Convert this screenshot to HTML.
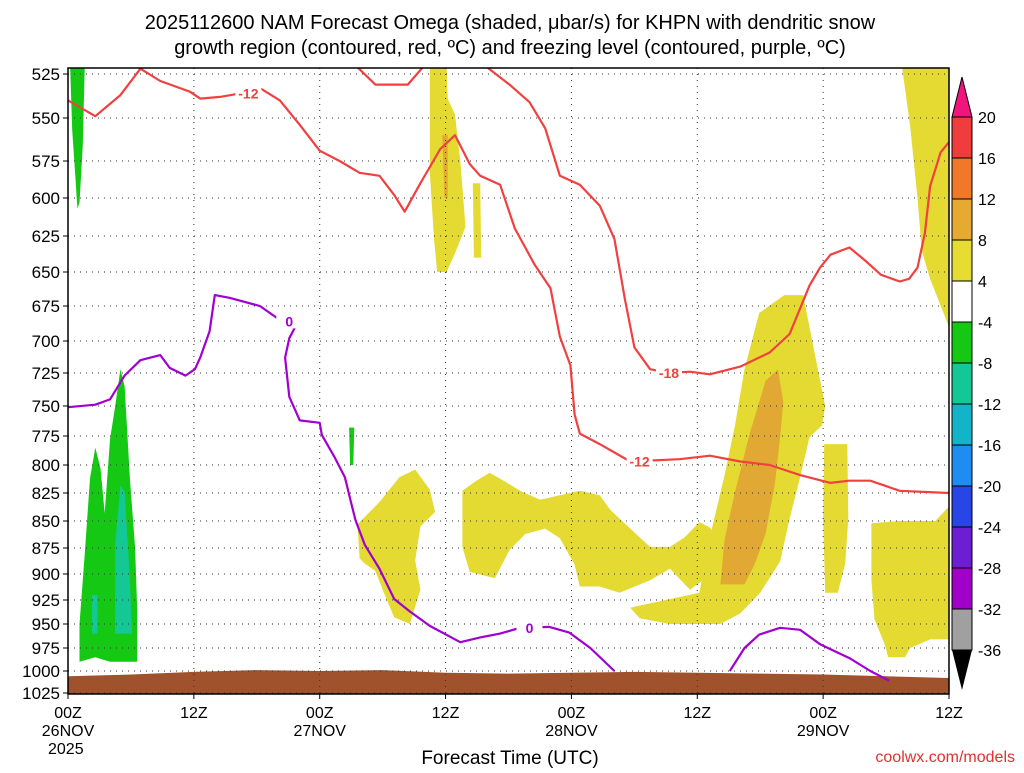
<!DOCTYPE html>
<html><head><meta charset="utf-8"><style>
body{margin:0;background:#fff;width:1024px;height:768px;overflow:hidden}
svg{font-family:"Liberation Sans",sans-serif}
</style></head><body>
<svg id="c" width="1024" height="768" xmlns="http://www.w3.org/2000/svg"></svg>
<script>
const pTicks=[525,550,575,600,625,650,675,700,725,750,775,800,825,850,875,900,925,950,975,1000,1025];
const pTickY=[74,118,161,198,236,272,306,341,373,406,436,465,493,521,548,574,600,624,648,671,693];
const xTickHours=[0,12,24,36,48,60,72,84];
const xTickLabels=["00Z","12Z","00Z","12Z","00Z","12Z","00Z","12Z"];
const xDateLabels=["26NOV","","27NOV","","28NOV","","29NOV",""];
const cbLevels=[20,16,12,8,4,-4,-8,-12,-16,-20,-24,-28,-32,-36];
const cbColors=["#f03c3c","#f07828","#e6aa32","#e6dc32","#ffffff","#14c814","#14c896","#14b4c8","#1e8cf0","#2846e6","#6e1ed2","#a000c8","#a0a0a0"];
const redA=[[0,540],[2.6,549],[5,537],[6.9,522],[8.8,529],[11.6,535],[12.6,539],[14.5,538],[16.4,536],[18.3,533],[20.2,540],[22.1,554],[24,569],[25.9,575],[27.8,583],[29.7,585],[31.1,598],[32.1,609],[33.6,590],[35.5,568],[36.9,560],[37.4,566],[38.3,577],[39.3,585],[41.2,591],[42.6,620],[44.5,645],[46,662],[46.9,697],[47.9,719],[48.3,757],[48.8,773],[50.7,782],[53.6,797],[58.3,795],[61.2,792],[64.1,797],[66.9,800],[69.8,809],[72.7,816],[74.5,814],[76.5,814],[79.3,823],[84,825]];
const redB=[[27.4,520],[29.3,531],[32.4,531],[34,520]];
const redC=[[39.7,520],[42.1,531],[44,541],[45.5,556],[46.9,585],[48.8,591],[50.7,605],[52.1,627],[53.1,670],[54,705],[55.5,722],[57.3,725],[59.3,724],[61.2,726],[64.1,720],[66.9,709],[68.8,695],[70.7,660],[71.7,647],[72.7,638],[74.5,633],[76,642],[77.5,652],[79.3,657],[80.2,655],[81,647],[81.7,623],[82.2,592],[83.2,570],[84,564]];
const purpleA=[[0,751],[2.6,749],[4,745],[5.4,727],[6.9,715],[8.8,711],[9.7,721],[11.2,727],[12.1,722],[12.6,713],[13.5,693],[14,667],[15.4,669],[18.3,675],[20.2,685],[21.6,691],[21.1,698],[20.7,713],[21.1,743],[22.1,762],[24,764],[24.2,774],[25.4,793],[26.4,811],[26.9,830],[27.4,849],[28.3,872],[29.7,895],[31.1,924],[32.6,937],[34.5,952],[37.4,969],[39.3,964],[41.2,960],[43.1,954],[45.9,953],[47.8,959],[49.8,975],[52.1,1000]];
const purpleB=[[63.1,1000],[64.5,975],[65.9,961],[67.9,954],[69.8,956],[71.7,971],[74.5,986],[76.5,1000],[78.3,1011]];
const labels=[[17.2,536,"-12","#f04040"],[54.5,797,"-12","#f04040"],[57.3,725,"-18","#f04040"],[21.1,686,"0","#a000d0"],[44,954,"0","#a000d0"]];
const yellowPolys=[
[[34.5,520],[36.1,520],[36.2,539],[36.9,548],[37.4,575],[37.9,619],[36.9,637],[36.1,650],[35.2,650],[34.9,627],[34.5,583]],
[[38.6,590],[39.3,590],[39.4,640],[38.7,640]],
[[79.5,520],[84,520],[84,690],[82.2,655],[81.4,635],[81,600],[80.3,555]],
[[27.6,853],[29.7,833],[31.6,811],[33.1,804],[34.5,822],[35,842],[33.6,855],[33.1,887],[33.6,915],[32.6,950],[31.1,943],[30.2,920],[29.3,897],[28.3,890],[27.8,885]],
[[37.6,823],[38.8,815],[40.2,807],[41.7,815],[43.1,823],[45,831],[46.9,827],[48.8,823],[50.7,827],[51.7,840],[52.6,848],[55.5,874],[57.4,874],[58.8,865],[60.2,851],[61.2,856],[62.2,869],[61.2,890],[60.7,905],[59.3,915],[57.4,895],[55.5,906],[52.6,918],[50.7,912],[48.8,912],[48.3,891],[46.9,866],[45.5,857],[43.6,862],[42.1,877],[40.7,904],[38.3,898],[37.6,874]],
[[60.2,918],[61.2,865],[62.6,809],[63.6,766],[64.5,722],[65.9,680],[68.3,667],[70.1,667],[71.2,710],[72.2,750],[71.9,766],[70.7,776],[69.8,811],[68.8,848],[67.9,888],[66,918],[64.1,939],[62.2,950],[57.4,950],[54.5,944],[53.6,933]],
[[72.1,782],[74.3,782],[74.4,848],[74.1,890],[73.4,918],[72.2,918],[72,848]],
[[76.6,852],[79.3,850],[82.7,850],[84,837],[84,966],[82.2,966],[80.3,975],[79.8,985],[78.2,985],[77.9,972],[76.9,945],[76.6,906]]];
const orangePolys=[
[[62.2,910],[62.6,867],[63.6,824],[65,773],[66.5,731],[67.7,722],[68.2,747],[67.9,776],[67.4,817],[66.5,862],[65.5,890],[64.5,910]],
[[35.7,560],[36.2,560],[36.2,600],[35.9,600]]];
const greenPolys=[
[[0.2,520],[1.6,520],[1.4,567],[1.1,603],[0.9,607],[0.7,585],[0.4,557]],
[[1.1,950],[1.6,880],[2.1,812],[2.6,785],[3.1,803],[3.5,843],[4,778],[4.5,750],[5,722],[5.4,735],[5.9,812],[6.4,875],[6.6,935],[6.6,990],[4,990],[2.6,985],[1.1,990]],
[[26.8,768],[27.3,768],[27.2,800],[26.9,800]]];
const tealPolys=[
[[4.5,872],[5,818],[5.4,824],[5.9,905],[6.1,960],[4.5,960]],
[[2.3,920],[2.8,920],[2.8,960],[2.3,960]]];
const terrainHours=[0,6,12,18,24,30,36,42,48,54,60,66,72,78,84];
const terrainP=[1006,1004,1001,999,1000,999,1002,1003,1002,1001,1002,1003,1004,1006,1008];

const X0=68,X1=949,Y0=68,Y1=694;
const xs=h=>X0+h*(X1-X0)/84;
function ys(p){
  if(p<=pTicks[0]) return pTickY[0]-(pTicks[0]-p)*(pTickY[1]-pTickY[0])/25;
  for(let i=1;i<pTicks.length;i++) if(p<=pTicks[i]) return pTickY[i-1]+(p-pTicks[i-1])/25*(pTickY[i]-pTickY[i-1]);
  return pTickY[20]+(p-1025)*(22/25);
}
const svg=document.getElementById('c');
const NS="http://www.w3.org/2000/svg";
function mk(t,a,parent){const e=document.createElementNS(NS,t);for(const k in a)e.setAttribute(k,a[k]);(parent||svg).appendChild(e);return e;}
const pts=arr=>arr.map(d=>xs(d[0]).toFixed(1)+","+ys(d[1]).toFixed(1)).join(" ");

const defs=mk('defs',{});const cp=mk('clipPath',{id:'pc'},defs);mk('rect',{x:X0,y:Y0,width:X1-X0,height:Y1-Y0},cp);
const g=mk('g',{'clip-path':'url(#pc)'});


function fill(polys,col,name){polys.forEach(pl=>{const e=mk('polygon',{points:pts(pl),fill:col},g);

});}
fill(greenPolys,'#14c814','omega-green-region');
fill(tealPolys,'#14c896','omega-teal-region');
fill(yellowPolys,'#e4da32','omega-yellow-region');
fill(orangePolys,'#e2a834','omega-orange-region');
// terrain
const tp=terrainHours.map((h,i)=>[h,terrainP[i]]);
const terr=mk('polygon',{points:pts(tp)+" "+xs(84)+","+Y1+" "+xs(0)+","+Y1,fill:'#a0522d'},g);


// grid
pTicks.forEach(p=>{const l=mk('line',{x1:X0,x2:X1,y1:ys(p),y2:ys(p),stroke:'#333','stroke-width':1,'stroke-dasharray':'1,5'},g);

});
xTickHours.forEach(h=>{const l=mk('line',{x1:xs(h),x2:xs(h),y1:Y0,y2:Y1,stroke:'#333','stroke-width':1,'stroke-dasharray':'1,5'},g);

});
function line(arr,col,name){const e=mk('polyline',{points:pts(arr),fill:'none',stroke:col,'stroke-width':2.2,'stroke-linejoin':'round'},g);

}
line(redA,'#f04040','dgz-contour-minus12');line(redB,'#f04040','dgz-contour-minus12-top');line(redC,'#f04040','dgz-contour-minus18');
line(purpleA,'#a000d0','freezing-level-0');line(purpleB,'#a000d0','freezing-level-0-east');
labels.forEach(L=>{const x=xs(L[0]),y=ys(L[1]);mk('rect',{x:x-13,y:y-7,width:26,height:14,fill:'#fff'},g);
const t=mk('text',{x:x,y:y+5,'text-anchor':'middle','font-size':14,'font-weight':'bold',fill:L[3]},g);t.textContent=L[2];

});
const fr=mk('rect',{x:X0,y:Y0,width:X1-X0,height:Y1-Y0,fill:'none',stroke:'#000','stroke-width':1.5});


// axes labels
pTicks.forEach((p,i)=>{const t=mk('text',{x:60,y:ys(p)+6,'text-anchor':'end','font-size':17});t.textContent=p;


mk('line',{x1:X0-5,x2:X0,y1:ys(p),y2:ys(p),stroke:'#000'});});
xTickHours.forEach((h,i)=>{const x=xs(h);mk('line',{x1:x,x2:x,y1:Y1,y2:Y1+5,stroke:'#000'});
const t=mk('text',{x:x,y:718,'text-anchor':'middle','font-size':16});t.textContent=xTickLabels[i];


if(xDateLabels[i]){const d=mk('text',{x:x,y:736,'text-anchor':'middle','font-size':16});d.textContent=xDateLabels[i];

}});
const yr=mk('text',{x:48,y:754,'font-size':16});yr.textContent="2025";


const xt=mk('text',{x:510,y:764,'text-anchor':'middle','font-size':19});xt.textContent="Forecast Time (UTC)";


const cr=mk('text',{x:1015,y:762,'text-anchor':'end','font-size':16,fill:'#e03030'});cr.textContent="coolwx.com/models";


const t1=mk('text',{x:510,y:29,'text-anchor':'middle','font-size':20});t1.textContent="2025112600 NAM Forecast Omega (shaded, μbar/s) for KHPN with dendritic snow";


const t2=mk('text',{x:510,y:54,'text-anchor':'middle','font-size':20});t2.textContent="growth region (contoured, red, ºC) and freezing level (contoured, purple, ºC)";


// colorbar
const CX=952,CW=20,CT=117,STEP=41;
const up=mk('polygon',{points:`${CX},${CT} ${CX+CW},${CT} ${CX+CW/2},${CT-40}`,fill:'#f0147c',stroke:'#000'});


cbColors.forEach((c,i)=>{const r=mk('rect',{x:CX,y:CT+i*STEP,width:CW,height:STEP,fill:c,stroke:'#000','stroke-width':1});

});
const bot=CT+cbColors.length*STEP;
const dn=mk('polygon',{points:`${CX},${bot} ${CX+CW},${bot} ${CX+CW/2},${bot+40}`,fill:'#000'});


cbLevels.forEach((v,i)=>{const t=mk('text',{x:978,y:CT+i*STEP+6,'font-size':16});t.textContent=v;

});
</script>
</body></html>
